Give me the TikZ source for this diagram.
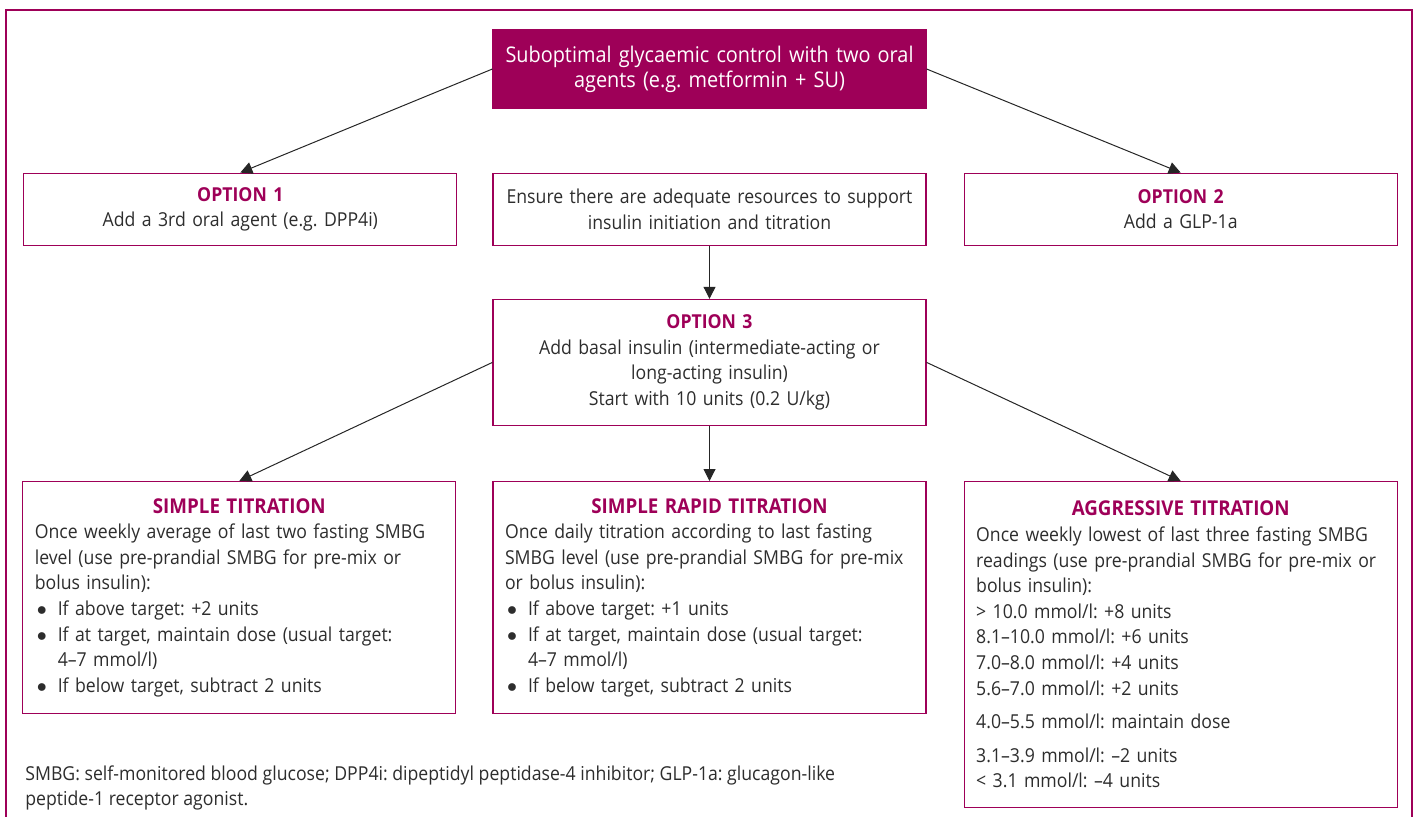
\documentclass[tikz,border=0pt]{standalone}
\usepackage{fontspec}
\setmainfont{Open Sans}[FakeStretch=0.92]
\usetikzlibrary{positioning,arrows.meta}
\definecolor{plum}{RGB}{158,0,88}
\definecolor{ink}{RGB}{45,45,45}
\newcommand{\hd}[1]{{\bfseries\color{plum}#1}}
\newcommand{\bhd}[1]{{\fontsize{10.2}{12.8}\selectfont\hd{#1}}}
\newcommand{\bul}{\makebox[11.5pt][l]{\hspace{1pt}$\bullet$}}
\newcommand{\ind}{\hspace*{11.5pt}}
\frenchspacing
\hyphenpenalty=10000

\begin{document}
\begin{tikzpicture}
		[node distance=18pt, font=\fontsize{9.6}{12.8}\selectfont, text=ink,
		box/.style={draw=plum, line width=0.6pt, minimum width=216.5pt, text width=204.5pt, inner xsep=6pt, align=center},
		lbox/.style={box, align=left},
		arr/.style={-{Triangle[length=6pt,width=6pt]}, line width=0.5pt, draw=black!85}]
		\useasboundingbox (0,0) rectangle (708pt,-408pt);
		\draw[plum, line width=0.6pt] (3pt,-5pt) rectangle (706pt,-420pt);
		\node[box, fill=plum, text=white, minimum height=39pt, text width=212.5pt, inner xsep=2pt, font=\fontsize{10.8}{12.5}\selectfont] (1) at (354.75pt,-34.5pt) {Suboptimal glycaemic control with two oral\\agents (e.g. metformin + SU)};
		\node[box, minimum height=36pt, below=32pt of 1] (2) {Ensure there are adequate resources to support\\insulin initiation and titration};
		\node[box, minimum height=36pt, left=17.5pt of 2] (3) {\hd{OPTION 1}\\Add a 3rd oral agent (e.g. DPP4i)};
		\node[box, minimum height=36pt, right=18.5pt of 2] (4) {\hd{OPTION 2}\\Add a GLP-1a};
		\node[box, minimum height=63pt, below=26.5pt of 2] (5) {\hd{OPTION 3}\\Add basal insulin (intermediate-acting or\\long-acting insulin)\\Start with 10 units (0.2 U/kg)};
		\node[lbox, minimum height=116pt, below=27.5pt of 5] (6) {\makebox[\linewidth]{\bhd{SIMPLE RAPID TITRATION}}\\
			Once daily titration according to last fasting\\
			SMBG level (use pre-prandial SMBG for pre-mix\\
			or bolus insulin):\\
			\bul If above target: +1 units\\
			\bul If at target, maintain dose (usual target:\\
			\ind 4–7 mmol/l)\\
			\bul If below target, subtract 2 units};
		\node[lbox, minimum height=116pt, left=18pt of 6] (7) {\makebox[\linewidth]{\bhd{SIMPLE TITRATION}}\\
			Once weekly average of last two fasting SMBG\\
			level (use pre-prandial SMBG for pre-mix or\\
			bolus insulin):\\
			\bul If above target: +2 units\\
			\bul If at target, maintain dose (usual target:\\
			\ind 4–7 mmol/l)\\
			\bul If below target, subtract 2 units};
		\node[lbox, minimum height=163pt, right=18.5pt of 6.north east, anchor=north west] (8) {\makebox[\linewidth]{\bhd{AGGRESSIVE TITRATION}}\\
			Once weekly lowest of last three fasting SMBG\\
			readings (use pre-prandial SMBG for pre-mix or\\
			bolus insulin):\\
			> 10.0 mmol/l: +8 units\\
			8.1–10.0 mmol/l: +6 units\\
			7.0–8.0 mmol/l: +4 units\\
			5.6–7.0 mmol/l: +2 units\\[4pt]
			4.0–5.5 mmol/l: maintain dose\\[4pt]
			3.1–3.9 mmol/l: –2 units\\
			< 3.1 mmol/l: –4 units};
		\node[anchor=north west, inner sep=0pt, align=left] (9) at (12.5pt,-382.5pt) {SMBG: self-monitored blood glucose; DPP4i: dipeptidyl peptidase-4 inhibitor; GLP-1a: glucagon-like\\peptide-1 receptor agonist.};
		
		\draw[arr] (1.west) -- (3.north);
		\draw[arr] (1.east) -- (4.north);
		\draw[arr] (2) -- (5);
		\draw[arr] (5.west) -- (7.north);
		\draw[arr] (5) -- (6);
		\draw[arr] (5.east) -- (8.north);
\end{tikzpicture}
\end{document}
